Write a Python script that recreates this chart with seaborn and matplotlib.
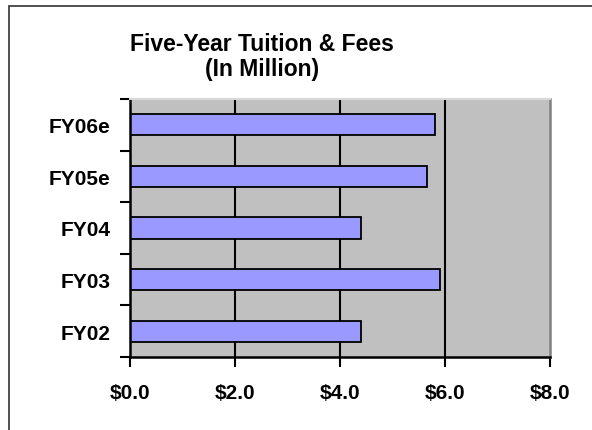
import matplotlib
matplotlib.use("Agg")
import matplotlib.pyplot as plt
import seaborn as sns
import pandas as pd
import numpy as np
from matplotlib.patches import Rectangle

categories = ["FY06e", "FY05e", "FY04", "FY03", "FY02"]
values = [5.8, 5.65, 4.4, 5.9, 4.4]
xtick_values = [0, 2, 4, 6, 8]
xtick_labels = ["$0.0", "$2.0", "$4.0", "$6.0", "$8.0"]
title = "Five-Year Tuition & Fees\n(In Million)"

sns.set_theme(style="white")
plt.rcParams["font.family"] = ["Liberation Sans", "DejaVu Sans"]
plt.rcParams["text.color"] = "black"
plt.rcParams["xtick.color"] = "black"
plt.rcParams["ytick.color"] = "black"
plt.rcParams["xtick.labelcolor"] = "black"
plt.rcParams["ytick.labelcolor"] = "black"

df = pd.DataFrame({"cat": categories, "val": values})

W, H = 592, 431
fig = plt.figure(figsize=(W / 100, H / 100), dpi=100)
fig.patch.set_facecolor("white")
ax = fig.add_axes([130 / W, 1 - 358 / H, 420 / W, 258 / H])
ax.set_facecolor("#C0C0C0")

sns.barplot(data=df, x="val", y="cat", order=categories, orient="h",
            color="#9999FF", saturation=1, width=0.41,
            edgecolor="black", linewidth=1.3, ax=ax, zorder=3)

ax.set_xlim(0, 8)
ax.set_ylim(4.5, -0.5)
ax.set_xticks(xtick_values)
ax.set_xticklabels(xtick_labels, fontsize=15, fontweight="bold", color="black")
ax.set_yticks(range(len(categories)))
ax.set_yticklabels(categories, fontsize=15, fontweight="bold", color="black")
ax.set_yticks(np.arange(-0.5, len(categories), 1.0), minor=True)
ax.tick_params(axis="y", which="major", length=0, pad=14)
ax.tick_params(axis="y", which="minor", length=7, width=1.5, color="black", direction="out", left=True)
ax.tick_params(axis="x", which="major", length=7, width=1.5, color="black", direction="out", bottom=True, pad=12)
ax.set_xlabel("")
ax.set_ylabel("")

for xv in xtick_values[1:-1]:
    ax.axvline(xv, color="black", linewidth=1.5, zorder=1)

for s in ["left", "bottom"]:
    ax.spines[s].set_color("black")
    ax.spines[s].set_linewidth(1.8)
ax.spines["right"].set_color("#808080")
ax.spines["right"].set_linewidth(1.8)
ax.spines["top"].set_color("#D8D8D8")
ax.spines["top"].set_linewidth(1.5)
for s in ax.spines.values():
    s.set_zorder(4)

fig.text(262 / W, 1 - 57 / H, title, ha="center", va="center", color="black",
         fontsize=16.5, fontweight="bold", linespacing=1.15)

fig.patches.append(Rectangle((9 / W, -0.1), 1.2, 1 - 7 / H + 0.1,
                             transform=fig.transFigure, fill=False,
                             edgecolor="#333333", linewidth=1.2))

fig.savefig("out.png", dpi=100)
